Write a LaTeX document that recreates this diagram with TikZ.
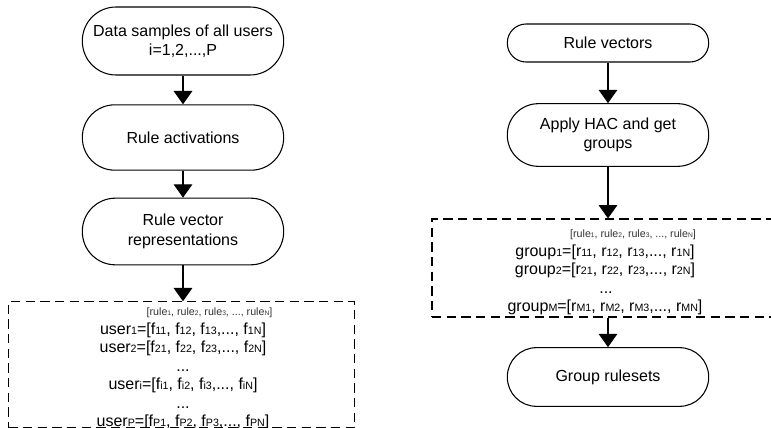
\documentclass[tikz,border=0pt]{standalone}
\usepackage{fontspec}
\setmainfont{Liberation Sans}
\usetikzlibrary{arrows.meta,positioning}
% small indices sitting on the baseline
\newcommand{\idx}[1]{{\fontsize{8}{8}\selectfont #1}}
\newcommand{\hidx}[1]{{\fontsize{5}{5}\selectfont #1}}
\tikzset{
  term/.style={rectangle,minimum height=#1,rounded corners=#1/2-0.2pt,draw=black,line width=0.8pt,fill=white,align=center,minimum width=151pt,font=\fontsize{12}{14.5}\selectfont},
  dbox/.style={rectangle,draw=black,line width=0.9pt,dash pattern=on 7pt off 4pt,inner sep=0pt},
  arr/.style={-{Triangle[length=10pt,width=14pt]},line width=0.8pt,black},
  vecline/.style={anchor=base,inner sep=0pt,font=\fontsize{12}{14}\selectfont},
  header/.style={anchor=base,inner sep=0pt,font=\fontsize{8}{9}\selectfont,text=black!80}
}

\begin{document}
\begin{tikzpicture}[x=0.75pt,y=-0.75pt]
    \clip (0,0) rectangle (771,428);
    \fill[white] (0,0) rectangle (771,428);

    % left column
    \node[term=51pt] (samples) at (183,41) {Data samples of all users\\i=1,2,...,P};
    \node[term=49pt] (activ) at (183,137.5) {Rule activations};
    \node[term=50pt] (repr) at (183,231.5) {Rule vector\\representations};
    \node[dbox,minimum width=260pt,minimum height=94pt] (users) at (181.5,364.5) {};

    \node[header] (uhead) at (209.5,315) {[rule\hidx{1}, rule\hidx{2}, rule\hidx{3}, ..., rule\hidx{N}]};
    \node[vecline] (user1) at (183,334) {user\idx{1}=[f\idx{11}, f\idx{12}, f\idx{13},..., f\idx{1N}]};
    \node[vecline] (user2) at (183,352) {user\idx{2}=[f\idx{21}, f\idx{22}, f\idx{23},..., f\idx{2N}]};
    \node[vecline] (udots1) at (183,371) {...};
    \node[vecline] (useri) at (183,389) {user\idx{i}=[f\idx{i1}, f\idx{i2}, f\idx{i3},..., f\idx{iN}]};
    \node[vecline] (udots2) at (183,408) {...};
    \node[vecline] (userP) at (183,426) {user\idx{P}=[f\idx{P1}, f\idx{P2}, f\idx{P3},..., f\idx{PN}]};

    \draw[arr] (samples) -- (activ);
    \draw[arr] (activ) -- (repr);
    \draw[arr] (repr) -- (repr |- users.north);

    % right column
    \node[term=28.5pt] (vectors) at (608,43) {Rule vectors};
    \node[term=47pt] (hac) at (608,135) {Apply HAC and get\\groups};
    \node[dbox,minimum width=262.5pt,minimum height=73.5pt] (groups) at (607,268) {};
    \node[term=44pt] (rulesets) at (608,377) {Group rulesets};

    \node[header] (ghead) at (633,237) {[rule\hidx{1}, rule\hidx{2}, rule\hidx{3}, ..., rule\hidx{N}]};
    \node[vecline] (group1) at (605,256) {group\idx{1}=[r\idx{11}, r\idx{12}, r\idx{13},..., r\idx{1N}]};
    \node[vecline] (group2) at (605,274) {group\idx{2}=[r\idx{21}, r\idx{22}, r\idx{23},..., r\idx{2N}]};
    \node[vecline] (gdots) at (606,293) {...};
    \node[vecline] (groupM) at (605,311) {group\idx{M}=[r\idx{M1}, r\idx{M2}, r\idx{M3},..., r\idx{MN}]};

    \draw[arr] (vectors) -- (hac);
    \draw[arr] (hac) -- (hac |- groups.north);
    \draw[arr] (hac |- groups.south) -- (rulesets);
  \end{tikzpicture}
\end{document}
